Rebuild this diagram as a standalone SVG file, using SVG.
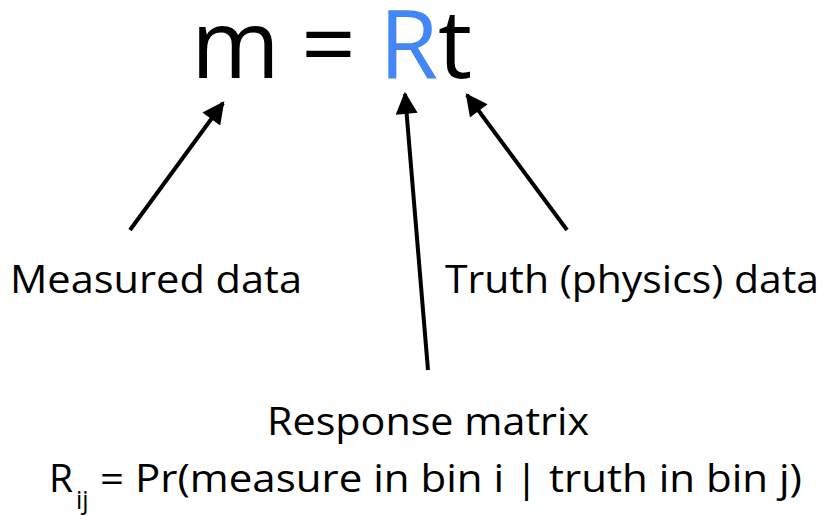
<svg xmlns="http://www.w3.org/2000/svg" width="830" height="516" viewBox="0 0 830 516">
<style>
text{font-family:"Open Sans","Noto Sans","Liberation Sans",sans-serif;fill:#000}
.eq{font-size:96px}
.lab{font-size:39px}
.conn line{stroke:#000;stroke-width:4;marker-end:url(#ah)}
</style>
<defs>
<marker id="ah" viewBox="0 0 10 10" refX="9" refY="5" markerWidth="6" markerHeight="5.5" orient="auto" markerUnits="strokeWidth">
<path d="M0,0 L10,5 L0,10 z" fill="#000"/>
</marker>
</defs>
<rect width="830" height="516" fill="#fff"/>
<g id="equation">
<text class="eq" x="191" y="78">m</text>
<text class="eq" x="301" y="78">=</text>
<text class="eq" x="379" y="78" style="fill:#4287f5">R</text>
<text class="eq" x="438" y="78">t</text>
</g>
<g id="measured">
<text class="lab" x="10" y="293" textLength="292" lengthAdjust="spacingAndGlyphs">Measured data</text>
</g>
<g id="truth">
<text class="lab" x="445" y="293" textLength="374" lengthAdjust="spacingAndGlyphs">Truth (physics) data</text>
</g>
<g id="response">
<text class="lab" x="267" y="435" textLength="322" lengthAdjust="spacingAndGlyphs">Response matrix</text>
<text class="lab" x="49" y="492">R</text>
<text x="76" y="509" style="font-size:25px">ij</text>
<text class="lab" x="100" y="492" textLength="702" lengthAdjust="spacingAndGlyphs">= Pr(measure in bin i | truth in bin j)</text>
</g>
<g class="conn">
<line x1="130" y1="230" x2="223" y2="103"/>
<line x1="428" y1="370" x2="405" y2="94"/>
<line x1="567" y1="230" x2="467" y2="95"/>
</g>
</svg>
